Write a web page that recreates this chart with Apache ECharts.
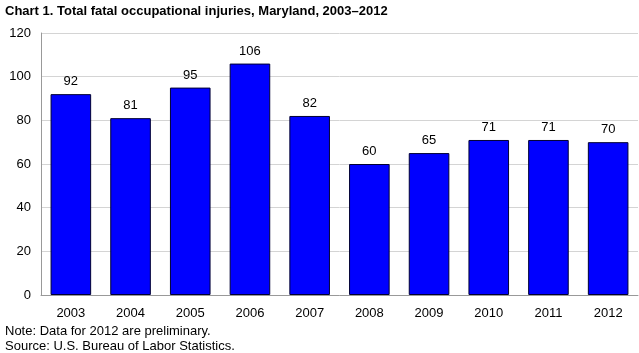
<!DOCTYPE html>
<html>
<head>
<meta charset="utf-8">
<script src="https://cdn.jsdelivr.net/npm/echarts@6/dist/echarts.min.js"></script>
<style>
    html, body { margin: 0; padding: 0; background: #fff; }
    #chart { width: 639px; height: 353px; }
</style>
</head>
<body>
<div id="chart"></div>
<script>
var years = ['2003', '2004', '2005', '2006', '2007', '2008', '2009', '2010', '2011', '2012']
var fatalities = [92, 81, 95, 106, 82, 60, 65, 71, 71, 70]
var yTicks = [0, 20, 40, 60, 80, 100, 120]

var font = 'Arial, "Liberation Sans", sans-serif'
var myChart = echarts.init(document.getElementById('chart'))
myChart.setOption({
    animation: false,
    title: [
        {
            text: 'Chart 1. Total fatal occupational injuries, Maryland, 2003\u20132012',
            left: 0,
            top: 0,
            textStyle: { fontFamily: font, fontSize: 13, fontWeight: 'bold', color: '#000' }
        },
        {
            // footnotes
            text: 'Note: Data for 2012 are preliminary.\nSource: U.S. Bureau of Labor Statistics.',
            left: 0,
            top: 319,
            textStyle: { fontFamily: font, fontSize: 13, fontWeight: 'normal', color: '#000', lineHeight: 15 }
        }
    ],
    grid: { left: 41, right: 1, top: 33, bottom: 58 },
    xAxis: {
        type: 'category',
        data: years,
        axisLine: { lineStyle: { color: '#999' } },
        axisTick: { show: false },
        axisLabel: { color: '#000', fontFamily: font, fontSize: 13, margin: 12 }
    },
    yAxis: {
        type: 'value',
        min: yTicks[0],
        max: yTicks[yTicks.length - 1],
        interval: 20,
        axisLine: { show: true, lineStyle: { color: '#999' } },
        axisTick: { show: false },
        splitLine: { lineStyle: { color: '#d4d4d4' } },
        axisLabel: { color: '#000', fontFamily: font, fontSize: 13, margin: 10 }
    },
    series: [
        {
            type: 'bar',
            data: fatalities,
            barWidth: '68%',
            itemStyle: { color: '#0000ff', borderColor: '#000033', borderWidth: 1 },
            label: {
                show: true,
                position: 'top',
                distance: 6,
                color: '#000',
                fontFamily: font,
                fontSize: 13
            }
        }
    ]
})
</script>
</body>
</html>
